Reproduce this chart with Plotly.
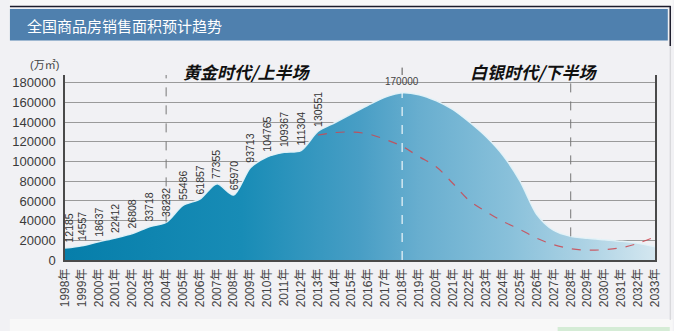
import plotly.graph_objects as go

# ---- data ----
years = list(range(1998, 2034))
year_labels = [f"{y}年" for y in years]

# sales area (万㎡): actual 1998-2013, projected peak 2018 and decline after
area_values = [
    12185, 14557, 18637, 22412, 26808, 33718, 38232, 55486, 61857, 77355,
    65970, 93713, 104765, 109367, 111304, 130551,
    139500, 148500, 157500, 165500, 170000,
    168000, 162000, 153000, 140000, 125000, 106000, 80000, 46000, 30000,
    24000, 22000, 20500, 19000, 17000, 13500,
]
labelled_years = list(range(1998, 2014))
labelled_values = area_values[:16]
peak_year = 2018
peak_value = 170000

# alternative trend curve (dashed)
trend_years = list(range(2013, 2034))
trend_values = [
    127000, 129500, 130000, 128000, 122500, 115500, 105000, 95000, 78000,
    60000, 49000, 39000, 31000, 22000, 15500, 11500, 10000, 10500, 12500,
    17000, 23500,
]

y_ticks = list(range(0, 180001, 20000))

# ---- geometry helpers (pixel -> paper) ----
W, H = 674, 331
L, R, T, B = 56, 18, 75, 71
PW, PH = W - L - R, H - T - B


def px(x):
    return (x - L) / PW


def py(y):
    return (H - B - y) / PH


fig = go.Figure()

fig.add_trace(go.Scatter(
    x=years, y=area_values, mode="lines",
    line=dict(shape="spline", smoothing=0.8, color="rgba(228,242,248,0.95)", width=1.5),
    fill="tozeroy",
    fillgradient=dict(
        type="horizontal",
        colorscale=[
            [0.0, "rgb(6,126,170)"],
            [0.3, "rgb(24,140,182)"],
            [0.5, "rgb(72,158,197)"],
            [0.6, "rgb(104,174,207)"],
            [0.75, "rgb(136,192,218)"],
            [0.88, "rgb(172,210,228)"],
            [1.0, "rgb(212,231,240)"],
        ],
    ),
    hoverinfo="skip", showlegend=False,
))

fig.add_trace(go.Scatter(
    x=trend_years, y=trend_values, mode="lines",
    line=dict(shape="spline", smoothing=1.0, color="rgba(205,70,80,0.85)", width=1.2, dash="dash"),
    hoverinfo="skip", showlegend=False,
))

shapes = []
# page decoration
shapes.append(dict(type="rect", xref="paper", yref="paper", x0=px(0), x1=px(W), y0=py(6), y1=py(0),
                   fillcolor="#f8f8f8", line_width=0, layer="below"))
shapes.append(dict(type="line", xref="paper", yref="paper", x0=px(0), x1=px(672), y0=py(6.5), y1=py(6.5),
                   line=dict(color="#1c1c2c", width=1.5)))
shapes.append(dict(type="rect", xref="paper", yref="paper", x0=px(0), x1=px(669), y0=py(40.5), y1=py(9),
                   fillcolor="#4f80ae", line_width=0, layer="below"))
shapes.append(dict(type="line", xref="paper", yref="paper", x0=px(671.5), x1=px(671.5), y0=py(46), y1=py(6),
                   line=dict(color="#1c1c2c", width=1.5)))
shapes.append(dict(type="line", xref="paper", yref="paper", x0=px(671.5), x1=px(671.5), y0=py(320), y1=py(46),
                   line=dict(color="#d0d0d4", width=1)))
shapes.append(dict(type="rect", xref="paper", yref="paper", x0=px(0), x1=px(W), y0=py(H), y1=py(319),
                   fillcolor="#f8f8f8", line_width=0, layer="below"))
shapes.append(dict(type="rect", xref="paper", yref="paper", x0=px(557), x1=px(671), y0=py(H), y1=py(327),
                   fillcolor="#d5ecd6", line_width=0, layer="below"))

# era dividers
shapes.append(dict(type="line", xref="x", yref="y", x0=2004, x1=2004, y0=area_values[6], y1=192000,
                   line=dict(color="#777777", width=1, dash="dash")))
shapes.append(dict(type="line", xref="x", yref="y", x0=2028, x1=2028, y0=area_values[30], y1=192000,
                   line=dict(color="#777777", width=1, dash="dash")))
shapes.append(dict(type="line", xref="x", yref="y", x0=peak_year, x1=peak_year, y0=0, y1=peak_value,
                   line=dict(color="rgba(255,255,255,0.9)", width=1.2, dash="dash")))
shapes.append(dict(type="line", xref="x", yref="paper", x0=peak_year, x1=peak_year, y0=1.0, y1=1.04,
                   line=dict(color="#555555", width=1)))

annotations = []
annotations.append(dict(text="全国商品房销售面积预计趋势", xref="paper", yref="paper",
                        x=px(15), y=py(25), xanchor="left", yanchor="middle", showarrow=False,
                        font=dict(family="Noto Sans CJK SC", size=15, color="white")))
annotations.append(dict(text="(万㎡)", xref="paper", yref="paper", x=px(35), y=py(65),
                        xanchor="center", yanchor="middle", showarrow=False,
                        font=dict(family="Liberation Sans, Noto Sans CJK SC", size=11, color="#444444")))
annotations.append(dict(text="<b><i>黄金时代/上半场</i></b>", xref="x", yref="paper",
                        x=1998 + (241 - L) / PW * 35, y=py(72), xanchor="center", yanchor="middle",
                        showarrow=False, font=dict(family="Noto Sans CJK SC", size=17, color="#111111")))
annotations.append(dict(text="<b><i>白银时代/下半场</i></b>", xref="x", yref="paper",
                        x=1998 + (533 - L) / PW * 35, y=py(71.5), xanchor="center", yanchor="middle",
                        showarrow=False, font=dict(family="Noto Sans CJK SC", size=17, color="#111111")))

label_font = dict(family="Liberation Sans Narrow, Liberation Sans, Arial", size=10.5, color="#333333")
for i, (yr, v) in enumerate(zip(labelled_years, labelled_values)):
    annotations.append(dict(text=str(v), xref="x", yref="y", x=yr, y=v, textangle=-90,
                            xanchor="center", yanchor="bottom", yshift=3, xshift=4 if i == 0 else 0,
                            showarrow=False, font=label_font))
annotations.append(dict(text=str(peak_value), xref="x", yref="y", x=peak_year, y=peak_value,
                        xanchor="center", yanchor="bottom", yshift=4, showarrow=False,
                        font=dict(family="Liberation Sans", size=10, color="#444444")))

fig.update_layout(
    width=W, height=H,
    margin=dict(l=L, r=R, t=T, b=B, pad=0),
    paper_bgcolor="#f1f1f4",
    plot_bgcolor="rgba(0,0,0,0)",
    shapes=shapes,
    annotations=annotations,
    showlegend=False,
    xaxis=dict(
        range=[1998, 2033], tickmode="array", tickvals=years, ticktext=year_labels,
        tickangle=-90, showgrid=False, zeroline=False,
        showline=True, linecolor="#4a4a4a", linewidth=1.5,
        ticks="outside", ticklen=2, tickcolor="rgba(0,0,0,0)",
        tickfont=dict(family="Liberation Sans, Noto Sans CJK SC", size=12, color="#444444"),
    ),
    yaxis=dict(
        range=[0, 188000], tickmode="array", tickvals=y_ticks,
        ticktext=[str(v) for v in y_ticks],
        showgrid=True, gridcolor="#9a9a9a", gridwidth=1, zeroline=False,
        showline=True, linecolor="#4a4a4a", linewidth=1.5, mirror=True,
        ticks="outside", ticklen=5, tickcolor="rgba(0,0,0,0)",
        tickfont=dict(family="Liberation Sans", size=13, color="#3a3a3a"),
    ),
)

fig.write_html("out.html")
